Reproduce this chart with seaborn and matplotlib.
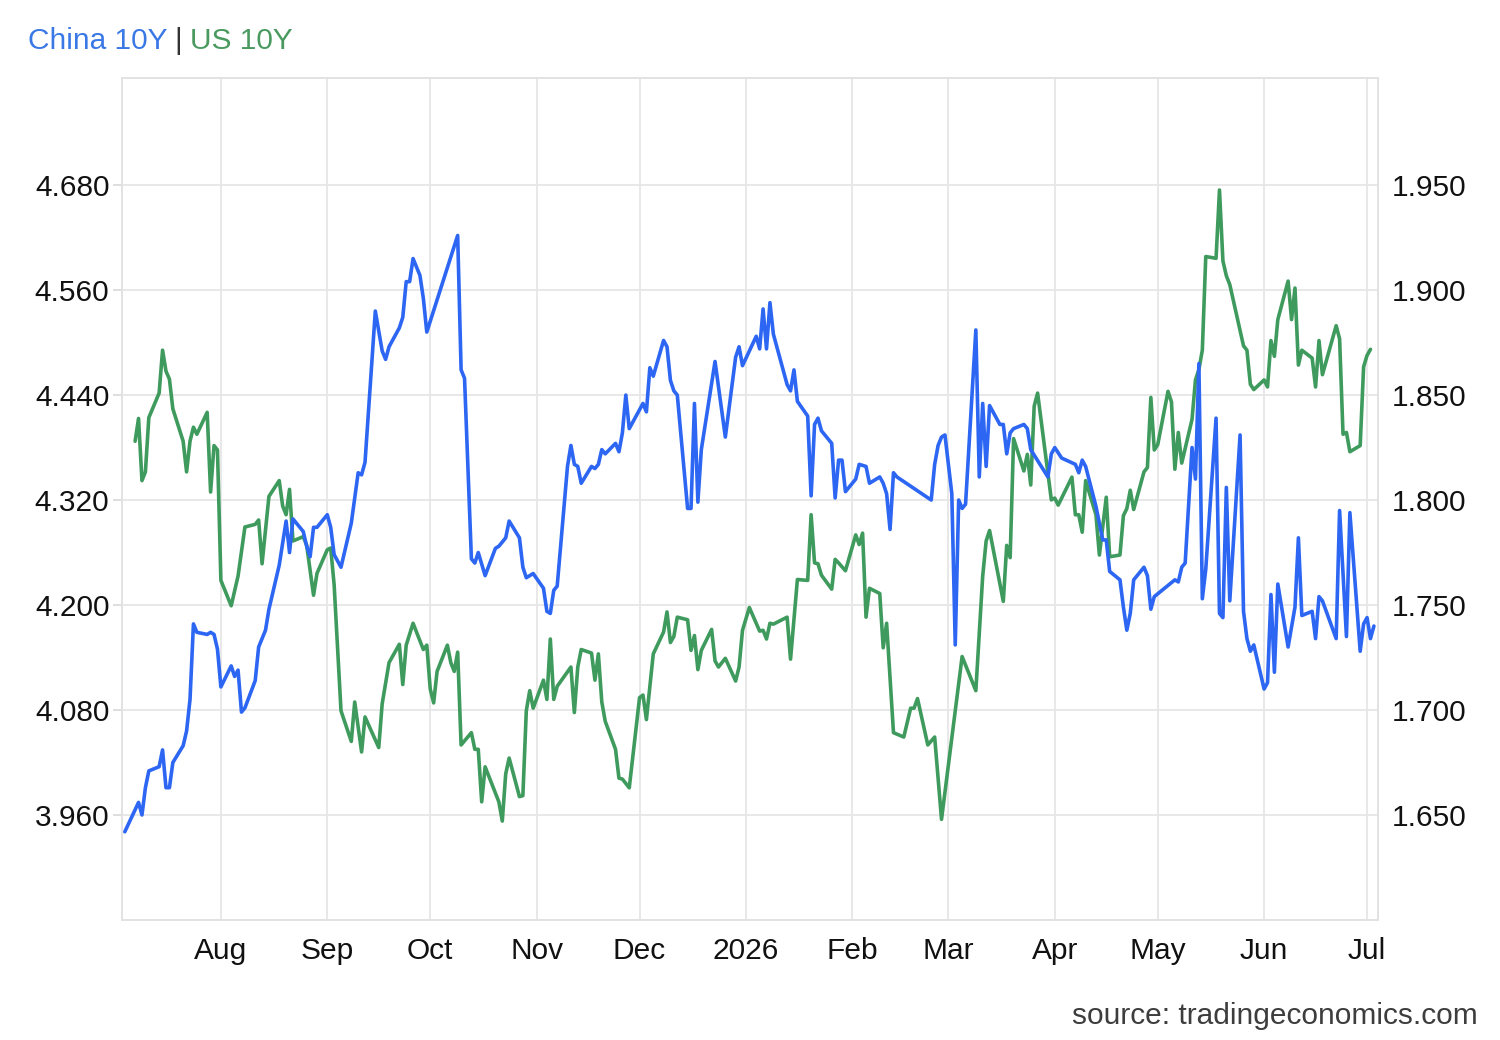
import matplotlib
matplotlib.use('Agg')
import matplotlib.pyplot as plt
import seaborn as sns
import pandas as pd

# US 10Y (left axis, green)
us_dates = [
    '2025-07-07', '2025-07-08', '2025-07-09', '2025-07-10', '2025-07-11', '2025-07-14', '2025-07-15',
    '2025-07-16', '2025-07-17', '2025-07-18', '2025-07-21', '2025-07-22', '2025-07-23', '2025-07-24',
    '2025-07-25', '2025-07-28', '2025-07-29', '2025-07-30', '2025-07-31', '2025-08-01', '2025-08-04',
    '2025-08-06', '2025-08-08', '2025-08-11', '2025-08-12', '2025-08-13', '2025-08-15', '2025-08-18',
    '2025-08-19', '2025-08-20', '2025-08-21', '2025-08-22', '2025-08-25', '2025-08-26', '2025-08-28',
    '2025-08-29', '2025-09-01', '2025-09-02', '2025-09-03', '2025-09-05', '2025-09-08', '2025-09-09',
    '2025-09-11', '2025-09-12', '2025-09-16', '2025-09-17', '2025-09-19', '2025-09-22', '2025-09-23',
    '2025-09-24', '2025-09-26', '2025-09-29', '2025-09-30', '2025-10-01', '2025-10-02', '2025-10-03',
    '2025-10-06', '2025-10-07', '2025-10-08', '2025-10-09', '2025-10-10', '2025-10-13', '2025-10-14',
    '2025-10-15', '2025-10-16', '2025-10-17', '2025-10-21', '2025-10-22', '2025-10-23', '2025-10-24',
    '2025-10-27', '2025-10-28', '2025-10-29', '2025-10-30', '2025-10-31', '2025-11-03', '2025-11-04',
    '2025-11-05', '2025-11-06', '2025-11-07', '2025-11-11', '2025-11-12', '2025-11-13', '2025-11-14',
    '2025-11-17', '2025-11-18', '2025-11-19', '2025-11-20', '2025-11-21', '2025-11-24', '2025-11-25',
    '2025-11-26', '2025-11-28', '2025-12-01', '2025-12-02', '2025-12-03', '2025-12-05', '2025-12-08',
    '2025-12-09', '2025-12-10', '2025-12-11', '2025-12-12', '2025-12-15', '2025-12-16', '2025-12-17',
    '2025-12-18', '2025-12-19', '2025-12-22', '2025-12-23', '2025-12-24', '2025-12-26', '2025-12-29',
    '2025-12-30', '2025-12-31', '2026-01-02', '2026-01-05', '2026-01-06', '2026-01-07', '2026-01-08',
    '2026-01-09', '2026-01-13', '2026-01-14', '2026-01-16', '2026-01-19', '2026-01-20', '2026-01-21',
    '2026-01-22', '2026-01-23', '2026-01-26', '2026-01-27', '2026-01-28', '2026-01-30', '2026-02-02',
    '2026-02-03', '2026-02-04', '2026-02-05', '2026-02-06', '2026-02-09', '2026-02-10', '2026-02-11',
    '2026-02-13', '2026-02-16', '2026-02-18', '2026-02-19', '2026-02-20', '2026-02-23', '2026-02-25',
    '2026-02-27', '2026-03-05', '2026-03-09', '2026-03-11', '2026-03-12', '2026-03-13', '2026-03-17',
    '2026-03-18', '2026-03-19', '2026-03-20', '2026-03-23', '2026-03-24', '2026-03-25', '2026-03-26',
    '2026-03-27', '2026-03-31', '2026-04-01', '2026-04-02', '2026-04-06', '2026-04-07', '2026-04-08',
    '2026-04-09', '2026-04-10', '2026-04-13', '2026-04-14', '2026-04-16', '2026-04-17', '2026-04-20',
    '2026-04-21', '2026-04-22', '2026-04-23', '2026-04-24', '2026-04-27', '2026-04-28', '2026-04-29',
    '2026-04-30', '2026-05-01', '2026-05-04', '2026-05-05', '2026-05-06', '2026-05-07', '2026-05-08',
    '2026-05-11', '2026-05-12', '2026-05-13', '2026-05-14', '2026-05-15', '2026-05-18', '2026-05-19',
    '2026-05-20', '2026-05-21', '2026-05-22', '2026-05-26', '2026-05-27', '2026-05-28', '2026-05-29',
    '2026-06-01', '2026-06-02', '2026-06-03', '2026-06-04', '2026-06-05', '2026-06-08', '2026-06-09',
    '2026-06-10', '2026-06-11', '2026-06-12', '2026-06-15', '2026-06-16', '2026-06-17', '2026-06-18',
    '2026-06-22', '2026-06-23', '2026-06-24', '2026-06-25', '2026-06-26', '2026-06-29', '2026-06-30',
    '2026-07-01', '2026-07-02',
]
us_values = [
    4.387, 4.413, 4.342, 4.352, 4.414, 4.442, 4.491,
    4.467, 4.458, 4.424, 4.387, 4.352, 4.387, 4.403,
    4.395, 4.420, 4.329, 4.382, 4.377, 4.228, 4.199,
    4.233, 4.289, 4.292, 4.297, 4.247, 4.324, 4.342,
    4.313, 4.303, 4.332, 4.273, 4.278, 4.268, 4.211,
    4.236, 4.263, 4.265, 4.223, 4.079, 4.044, 4.089,
    4.032, 4.072, 4.037, 4.087, 4.134, 4.155, 4.109,
    4.154, 4.179, 4.149, 4.154, 4.104, 4.088, 4.124,
    4.154, 4.134, 4.124, 4.146, 4.040, 4.054, 4.035,
    4.035, 3.975, 4.015, 3.975, 3.953, 4.007, 4.025,
    3.981, 3.982, 4.079, 4.102, 4.082, 4.114, 4.092,
    4.161, 4.092, 4.107, 4.129, 4.077, 4.129, 4.149,
    4.145, 4.114, 4.144, 4.089, 4.067, 4.035, 4.002,
    4.001, 3.991, 4.094, 4.097, 4.069, 4.144, 4.169,
    4.192, 4.157, 4.164, 4.186, 4.183, 4.148, 4.165,
    4.126, 4.148, 4.172, 4.136, 4.129, 4.139, 4.113,
    4.129, 4.171, 4.197, 4.170, 4.171, 4.161, 4.179,
    4.178, 4.186, 4.138, 4.229, 4.228, 4.303, 4.248,
    4.247, 4.234, 4.218, 4.252, 4.248, 4.239, 4.280,
    4.269, 4.282, 4.186, 4.219, 4.213, 4.151, 4.179,
    4.054, 4.049, 4.082, 4.082, 4.093, 4.040, 4.049,
    3.955, 4.141, 4.102, 4.233, 4.273, 4.285, 4.204,
    4.268, 4.254, 4.390, 4.353, 4.372, 4.337, 4.427,
    4.442, 4.320, 4.322, 4.314, 4.346, 4.303, 4.303,
    4.283, 4.342, 4.303, 4.257, 4.323, 4.255, 4.257,
    4.302, 4.310, 4.331, 4.309, 4.352, 4.357, 4.437,
    4.377, 4.383, 4.444, 4.432, 4.355, 4.397, 4.362,
    4.412, 4.457, 4.469, 4.491, 4.598, 4.596, 4.674,
    4.593, 4.576, 4.566, 4.496, 4.491, 4.452, 4.446,
    4.457, 4.449, 4.502, 4.484, 4.526, 4.570, 4.526,
    4.562, 4.474, 4.491, 4.482, 4.449, 4.502, 4.463,
    4.519, 4.504, 4.395, 4.397, 4.375, 4.382, 4.472,
    4.485, 4.492,
]

# China 10Y (right axis, blue)
cn_dates = [
    '2025-07-04', '2025-07-08', '2025-07-09', '2025-07-10', '2025-07-11', '2025-07-14', '2025-07-15',
    '2025-07-16', '2025-07-17', '2025-07-18', '2025-07-21', '2025-07-22', '2025-07-23', '2025-07-24',
    '2025-07-25', '2025-07-28', '2025-07-29', '2025-07-30', '2025-07-31', '2025-08-01', '2025-08-04',
    '2025-08-05', '2025-08-06', '2025-08-07', '2025-08-08', '2025-08-11', '2025-08-12', '2025-08-14',
    '2025-08-15', '2025-08-18', '2025-08-20', '2025-08-21', '2025-08-22', '2025-08-25', '2025-08-26',
    '2025-08-27', '2025-08-28', '2025-08-29', '2025-09-01', '2025-09-02', '2025-09-03', '2025-09-05',
    '2025-09-08', '2025-09-09', '2025-09-10', '2025-09-11', '2025-09-12', '2025-09-15', '2025-09-17',
    '2025-09-18', '2025-09-19', '2025-09-22', '2025-09-23', '2025-09-24', '2025-09-25', '2025-09-26',
    '2025-09-28', '2025-09-29', '2025-09-30', '2025-10-09', '2025-10-10', '2025-10-11', '2025-10-13',
    '2025-10-14', '2025-10-15', '2025-10-17', '2025-10-20', '2025-10-21', '2025-10-23', '2025-10-24',
    '2025-10-27', '2025-10-28', '2025-10-29', '2025-10-31', '2025-11-03', '2025-11-04', '2025-11-05',
    '2025-11-06', '2025-11-07', '2025-11-10', '2025-11-11', '2025-11-12', '2025-11-13', '2025-11-14',
    '2025-11-17', '2025-11-18', '2025-11-19', '2025-11-20', '2025-11-21', '2025-11-24', '2025-11-25',
    '2025-11-26', '2025-11-27', '2025-11-28', '2025-12-01', '2025-12-02', '2025-12-03', '2025-12-04',
    '2025-12-05', '2025-12-08', '2025-12-09', '2025-12-10', '2025-12-11', '2025-12-12', '2025-12-15',
    '2025-12-16', '2025-12-17', '2025-12-18', '2025-12-19', '2025-12-23', '2025-12-26', '2025-12-29',
    '2025-12-30', '2025-12-31', '2026-01-04', '2026-01-05', '2026-01-06', '2026-01-07', '2026-01-08',
    '2026-01-09', '2026-01-13', '2026-01-14', '2026-01-15', '2026-01-16', '2026-01-19', '2026-01-20',
    '2026-01-21', '2026-01-22', '2026-01-23', '2026-01-26', '2026-01-27', '2026-01-28', '2026-01-29',
    '2026-01-30', '2026-02-02', '2026-02-03', '2026-02-05', '2026-02-06', '2026-02-09', '2026-02-10',
    '2026-02-11', '2026-02-12', '2026-02-13', '2026-02-14', '2026-02-24', '2026-02-25', '2026-02-26',
    '2026-02-27', '2026-02-28', '2026-03-02', '2026-03-03', '2026-03-04', '2026-03-05', '2026-03-06',
    '2026-03-09', '2026-03-10', '2026-03-11', '2026-03-12', '2026-03-13', '2026-03-16', '2026-03-17',
    '2026-03-18', '2026-03-19', '2026-03-20', '2026-03-23', '2026-03-24', '2026-03-25', '2026-03-30',
    '2026-03-31', '2026-04-01', '2026-04-03', '2026-04-07', '2026-04-08', '2026-04-09', '2026-04-10',
    '2026-04-13', '2026-04-14', '2026-04-15', '2026-04-16', '2026-04-17', '2026-04-20', '2026-04-21',
    '2026-04-22', '2026-04-23', '2026-04-24', '2026-04-27', '2026-04-28', '2026-04-29', '2026-04-30',
    '2026-05-06', '2026-05-07', '2026-05-08', '2026-05-09', '2026-05-11', '2026-05-12', '2026-05-13',
    '2026-05-14', '2026-05-15', '2026-05-18', '2026-05-19', '2026-05-20', '2026-05-21', '2026-05-22',
    '2026-05-25', '2026-05-26', '2026-05-27', '2026-05-28', '2026-05-29', '2026-06-01', '2026-06-02',
    '2026-06-03', '2026-06-04', '2026-06-05', '2026-06-08', '2026-06-10', '2026-06-11', '2026-06-12',
    '2026-06-15', '2026-06-16', '2026-06-17', '2026-06-18', '2026-06-22', '2026-06-23', '2026-06-25',
    '2026-06-26', '2026-06-29', '2026-06-30', '2026-07-01', '2026-07-02', '2026-07-03',
]
cn_values = [
    1.642, 1.656, 1.650, 1.663, 1.671, 1.673, 1.681,
    1.663, 1.663, 1.675, 1.683, 1.690, 1.705, 1.741,
    1.737, 1.736, 1.737, 1.736, 1.729, 1.711, 1.721,
    1.716, 1.719, 1.699, 1.701, 1.714, 1.730, 1.738,
    1.748, 1.769, 1.790, 1.775, 1.791, 1.785, 1.778,
    1.773, 1.787, 1.787, 1.793, 1.787, 1.774, 1.768,
    1.789, 1.801, 1.813, 1.812, 1.818, 1.890, 1.871,
    1.867, 1.873, 1.882, 1.887, 1.904, 1.904, 1.915,
    1.907, 1.896, 1.880, 1.926, 1.862, 1.858, 1.772,
    1.770, 1.775, 1.764, 1.777, 1.778, 1.782, 1.790,
    1.782, 1.768, 1.763, 1.765, 1.758, 1.747, 1.746,
    1.757, 1.759, 1.816, 1.826, 1.817, 1.816, 1.808,
    1.816, 1.815, 1.817, 1.824, 1.822, 1.827, 1.823,
    1.832, 1.850, 1.834, 1.843, 1.846, 1.842, 1.863,
    1.859, 1.876, 1.873, 1.857, 1.852, 1.850, 1.796,
    1.796, 1.846, 1.799, 1.824, 1.866, 1.830, 1.868,
    1.873, 1.864, 1.878, 1.872, 1.891, 1.872, 1.894,
    1.879, 1.855, 1.852, 1.862, 1.847, 1.840, 1.802,
    1.836, 1.839, 1.833, 1.827, 1.801, 1.819, 1.819,
    1.804, 1.810, 1.817, 1.816, 1.808, 1.811, 1.808,
    1.803, 1.786, 1.813, 1.811, 1.800, 1.817, 1.826,
    1.830, 1.831, 1.803, 1.731, 1.800, 1.796, 1.798,
    1.881, 1.811, 1.846, 1.816, 1.845, 1.836, 1.836,
    1.822, 1.832, 1.834, 1.836, 1.834, 1.824, 1.811,
    1.822, 1.825, 1.820, 1.817, 1.813, 1.819, 1.816,
    1.797, 1.789, 1.781, 1.781, 1.766, 1.762, 1.749,
    1.738, 1.746, 1.762, 1.768, 1.764, 1.748, 1.754,
    1.762, 1.761, 1.768, 1.770, 1.825, 1.810, 1.865,
    1.753, 1.767, 1.839, 1.746, 1.744, 1.806, 1.752,
    1.831, 1.747, 1.734, 1.728, 1.731, 1.710, 1.713,
    1.755, 1.718, 1.760, 1.730, 1.749, 1.782, 1.745,
    1.747, 1.734, 1.754, 1.752, 1.734, 1.795, 1.735,
    1.794, 1.728, 1.741, 1.744, 1.734, 1.740,
]

month_ticks = ['2025-08-01', '2025-09-01', '2025-10-01', '2025-11-01', '2025-12-01', '2026-01-01',
               '2026-02-01', '2026-03-01', '2026-04-01', '2026-05-01', '2026-06-01', '2026-07-01']
month_labels = ['Aug', 'Sep', 'Oct', 'Nov', 'Dec', '2026', 'Feb', 'Mar', 'Apr', 'May', 'Jun', 'Jul']
us_ticks = [3.96, 4.08, 4.20, 4.32, 4.44, 4.56, 4.68]
cn_ticks = [1.65, 1.70, 1.75, 1.80, 1.85, 1.90, 1.95]

us_df = pd.DataFrame({'date': pd.to_datetime(us_dates), 'value': us_values})
cn_df = pd.DataFrame({'date': pd.to_datetime(cn_dates), 'value': cn_values})

sns.set_theme(style='white')
plt.rcParams['font.family'] = ['Liberation Sans', 'DejaVu Sans']

GREEN = '#3f9a5d'
BLUE = '#2c66f2'
GRID = '#e6e6e6'
FS = 21.5

fig = plt.figure(figsize=(15, 10.4), dpi=100)
ax = fig.add_axes([0.0813, 0.1154, 0.8374, 0.8096])
ax2 = ax.twinx()

sns.lineplot(data=us_df, x='date', y='value', ax=ax, color=GREEN, linewidth=2.6)
sns.lineplot(data=cn_df, x='date', y='value', ax=ax2, color=BLUE, linewidth=2.6)

ax.set_xlim(pd.Timestamp('2025-07-03 04:00'), pd.Timestamp('2026-07-04 05:00'))
ax.set_ylim(3.84, 4.802)
ax2.set_ylim(1.600, 2.001)

ax.set_xticks(pd.to_datetime(month_ticks))
ax.set_xticklabels(month_labels)
ax.set_yticks(us_ticks)
ax.set_yticklabels([f'{v:.3f}' for v in us_ticks])
ax2.set_yticks(cn_ticks)
ax2.set_yticklabels([f'{v:.3f}' for v in cn_ticks])

ax.grid(True, color=GRID, linewidth=1.3)
ax2.grid(False)
ax.set_axisbelow(True)
for a in (ax, ax2):
    a.set_xlabel('')
    a.set_ylabel('')
    for s in a.spines.values():
        s.set_color('#e2e2e2')
        s.set_linewidth(1.3)

ax.tick_params(axis='x', length=0, pad=12, labelsize=FS, labelcolor='#111111')
ax.tick_params(axis='y', left=True, length=6.5, width=1.2, color='#d8d8d8', pad=2.5,
               labelsize=FS, labelcolor='#111111')
ax2.tick_params(axis='y', right=True, length=0, pad=10, labelsize=FS, labelcolor='#111111')

# title pieces side by side
ty = 1 - 41 / 1040
t1 = fig.text(28 / 1500, ty, 'China 10Y', color='#3a78e6', fontsize=FS, va='center')
fig.canvas.draw()
r = fig.canvas.get_renderer()
x = t1.get_window_extent(r).x1
t2 = fig.text((x + 7) / 1500, ty, '|', color='#333333', fontsize=FS, va='center')
x = t2.get_window_extent(r).x1
fig.text((x + 8) / 1500, ty, 'US 10Y', color='#4a9a60', fontsize=FS, va='center')

fig.text(1478 / 1500, 1 - 1016 / 1040, 'source: tradingeconomics.com', color='#3d3d3d',
         fontsize=FS, ha='right', va='center')

fig.savefig('out.png', dpi=100)
